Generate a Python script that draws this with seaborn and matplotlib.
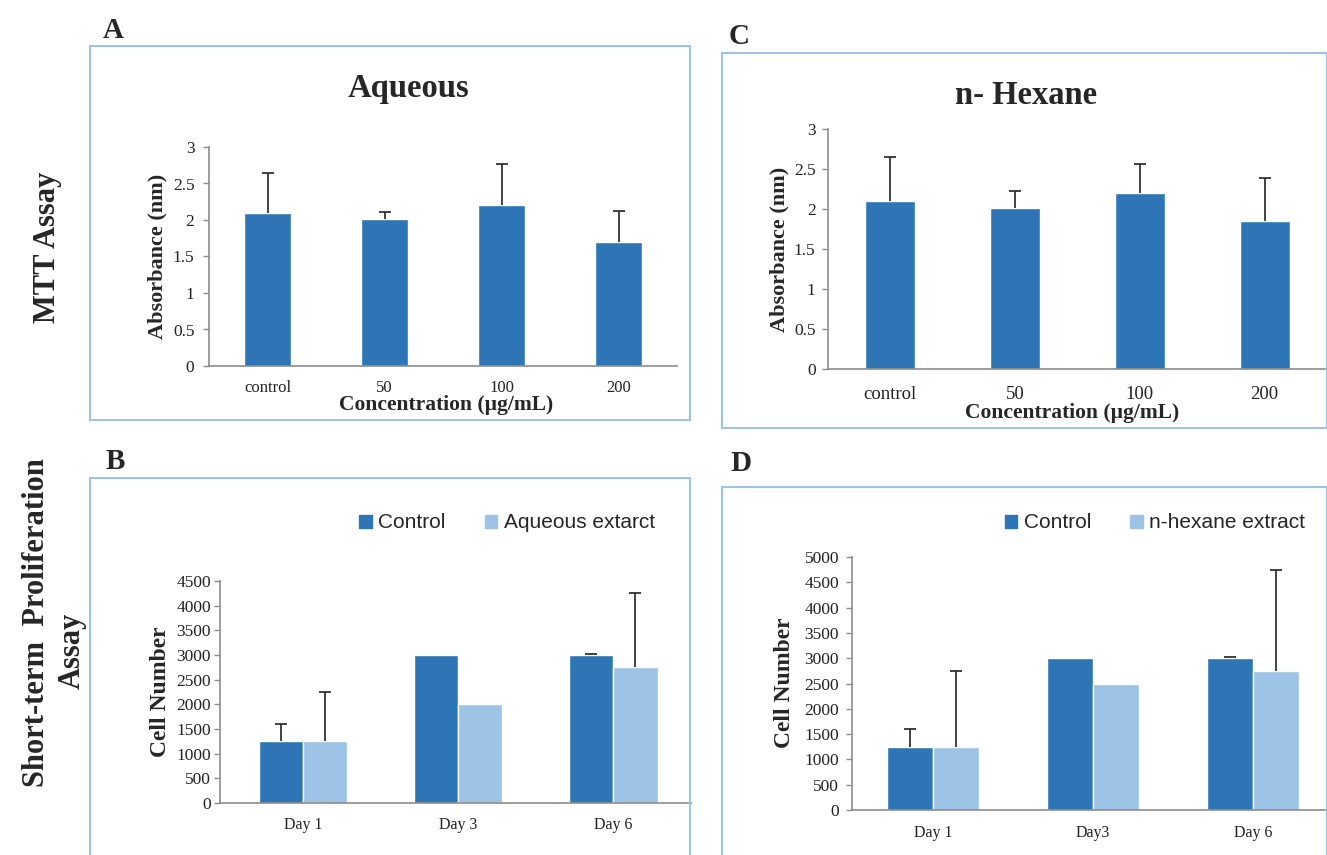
import numpy as np
import pandas as pd
import matplotlib
matplotlib.use("Agg")
import matplotlib.pyplot as plt
from matplotlib.patches import Rectangle, Patch
import seaborn as sns

# ----------------------------------------------------------
# Data
# ----------------------------------------------------------

conc_labels = ["control", "50", "100", "200"]

aqueous_abs = [2.10, 2.01, 2.21, 1.70]
aqueous_err = [0.55, 0.10, 0.56, 0.43]

hexane_abs = [2.10, 2.01, 2.20, 1.85]
hexane_err = [0.55, 0.21, 0.36, 0.54]

days_b = ["Day 1", "Day 3", "Day 6"]
days_d = ["Day 1", "Day3", "Day 6"]

b_control = [1250, 3000, 3000]
b_control_err = [350, 0, 20]
b_extract = [1250, 2000, 2750]
b_extract_err = [1000, 0, 1500]

d_control = [1250, 3000, 3000]
d_control_err = [350, 0, 20]
d_extract = [1250, 2500, 2750]
d_extract_err = [1500, 0, 2000]

DARK = "#2E75B6"
LIGHT = "#9DC3E6"
BORDER = "#9DC3E6"
SERIF = "Liberation Serif"
SANS = "Liberation Sans"

W, H = 1327, 855

sns.set_style("white")
plt.rcParams["font.family"] = [SERIF, "DejaVu Serif"]


def px(x, y):
    return x / W, 1 - y / H


def style_axis(ax, xsize, ysize, ypad, xpad):
    # pads are in points
    sns.despine(ax=ax)
    for side in ["left", "bottom"]:
        ax.spines[side].set_color("#8c8c8c")
        ax.spines[side].set_linewidth(1.2)
    ax.tick_params(axis="y", length=4, width=1, color="#8c8c8c",
                   labelsize=ysize, labelcolor="#222222", pad=ypad, left=True)
    ax.tick_params(axis="x", length=0, labelsize=xsize,
                   labelcolor="#222222", pad=xpad)
    ax.set_xlabel("")
    ax.set_ylabel("")


def add_errors(ax, bars, errs):
    # one-sided (upper) error bars, no cap at the bar top
    for bar, err in zip(bars, errs):
        if err <= 0:
            continue
        x = bar.get_x() + bar.get_width() / 2
        y = bar.get_height()
        ec = ax.errorbar([x], [y], yerr=[[0], [err]], fmt="none",
                         ecolor="#333333", elinewidth=1.3, capsize=4,
                         capthick=1.3, zorder=3)
        for cap in ec.lines[1]:
            if np.allclose(cap.get_ydata(), [y]):
                cap.set_visible(False)


fig = plt.figure(figsize=(W / 100, H / 100), dpi=100)

# panel borders
for (x0, y0, x1, y1) in [(90, 46, 690, 420), (722, 53, 1327, 428),
                         (90, 478, 690, 860), (722, 487, 1327, 860)]:
    fig.patches.append(Rectangle(px(x0, y1), (x1 - x0) / W, (y1 - y0) / H,
                                 transform=fig.transFigure, fill=False,
                                 edgecolor=BORDER, linewidth=1.5))

abs_ticks = np.arange(0, 3.01, 0.5)
abs_labels = ["0", "0.5", "1", "1.5", "2", "2.5", "3"]

# ----------------------------------------------------------
# Panel A - Aqueous MTT
# ----------------------------------------------------------

axA = fig.add_axes([209 / W, 1 - 366 / H, 468 / W, 219 / H])
sns.barplot(x=conc_labels, y=aqueous_abs, color=DARK, width=0.4,
            saturation=1, ax=axA, errorbar=None)
add_errors(axA, axA.containers[0], aqueous_err)
axA.set_ylim(0, 3)
axA.set_yticks(abs_ticks)
axA.set_yticklabels(abs_labels)
axA.set_xlim(-0.5, 3.5)
style_axis(axA, 12, 12.5, 6.5, 10)

# ----------------------------------------------------------
# Panel C - n-Hexane MTT
# ----------------------------------------------------------

axC = fig.add_axes([828 / W, 1 - 369 / H, 499 / W, 240 / H])
sns.barplot(x=conc_labels, y=hexane_abs, color=DARK, width=0.4,
            saturation=1, ax=axC, errorbar=None)
add_errors(axC, axC.containers[0], hexane_err)
axC.set_ylim(0, 3)
axC.set_yticks(abs_ticks)
axC.set_yticklabels(abs_labels)
axC.set_xlim(-0.5, 3.5)
style_axis(axC, 13.5, 12.5, 5, 12.5)

# ----------------------------------------------------------
# Panel B - Aqueous proliferation
# ----------------------------------------------------------

df_b = pd.DataFrame({
    "day": days_b * 2,
    "group": ["Control"] * 3 + ["Aqueous extarct"] * 3,
    "cells": b_control + b_extract,
})
axB = fig.add_axes([220 / W, 1 - 803 / H, 471 / W, 222 / H])
sns.barplot(data=df_b, x="day", y="cells", hue="group",
            palette=[DARK, LIGHT], width=0.57, saturation=1,
            errorbar=None, legend=False, ax=axB)
add_errors(axB, axB.containers[0], b_control_err)
add_errors(axB, axB.containers[1], b_extract_err)
axB.set_ylim(0, 4500)
axB.set_yticks(np.arange(0, 4501, 500))
axB.set_xlim(-0.533, 2.5)
style_axis(axB, 11.5, 12.5, 2.5, 10)

# ----------------------------------------------------------
# Panel D - n-Hexane proliferation
# ----------------------------------------------------------

df_d = pd.DataFrame({
    "day": days_d * 2,
    "group": ["Control"] * 3 + ["n-hexane extract"] * 3,
    "cells": d_control + d_extract,
})
axD = fig.add_axes([852 / W, 1 - 810 / H, 475 / W, 253 / H])
sns.barplot(data=df_d, x="day", y="cells", hue="group",
            palette=[DARK, LIGHT], width=0.574, saturation=1,
            errorbar=None, legend=False, ax=axD)
add_errors(axD, axD.containers[0], d_control_err)
add_errors(axD, axD.containers[1], d_extract_err)
axD.set_ylim(0, 5000)
axD.set_yticks(np.arange(0, 5001, 500))
axD.set_xlim(-0.505, 2.46)
style_axis(axD, 11.5, 12.5, 5.3, 11)

# ----------------------------------------------------------
# Texts
# ----------------------------------------------------------

bold = dict(fontweight="bold", family=[SERIF, "DejaVu Serif"],
            ha="center", va="center")

fig.text(*px(408, 88), "Aqueous", fontsize=23.5, **bold)
fig.text(*px(1026, 95), "n- Hexane", fontsize=23.5, **bold)

fig.text(*px(446, 405), "Concentration (\u00b5g/mL)", fontsize=15.5, **bold)
fig.text(*px(1072, 413), "Concentration (\u00b5g/mL)", fontsize=15.5, **bold)

fig.text(*px(157, 256), "Absorbance (nm)", fontsize=16, rotation=90, **bold)
fig.text(*px(779, 249), "Absorbance (nm)", fontsize=16, rotation=90, **bold)
fig.text(*px(161, 692), "Cell Number", fontsize=17, rotation=90, **bold)
fig.text(*px(784, 683), "Cell Number", fontsize=17, rotation=90, **bold)

for letter, (x, y) in {"A": (113, 31), "C": (739, 37),
                       "B": (115, 461), "D": (741, 463)}.items():
    fig.text(*px(x, y), letter, fontsize=21, **bold)

fig.text(*px(48, 247), "MTT Assay", fontsize=22, rotation=90, **bold)
fig.text(*px(37, 623), "Short-term  Proliferation", fontsize=22,
         rotation=90, **bold)
fig.text(*px(72, 651), "Assay", fontsize=22, rotation=90, **bold)

# legends
for labels, cx in [(["Control", "Aqueous extarct"], 507),
                   (["Control", "n-hexane extract"], 1155)]:
    handles = [Patch(facecolor=DARK, edgecolor=DARK),
               Patch(facecolor=LIGHT, edgecolor=LIGHT)]
    fig.legend(handles, labels, loc="center", bbox_to_anchor=px(cx, 523),
               ncol=2, frameon=False, prop={"family": SANS, "size": 15},
               handlelength=0.6, handleheight=0.6, handletextpad=0.3,
               columnspacing=1.9)

fig.savefig("out.png", dpi=100)
